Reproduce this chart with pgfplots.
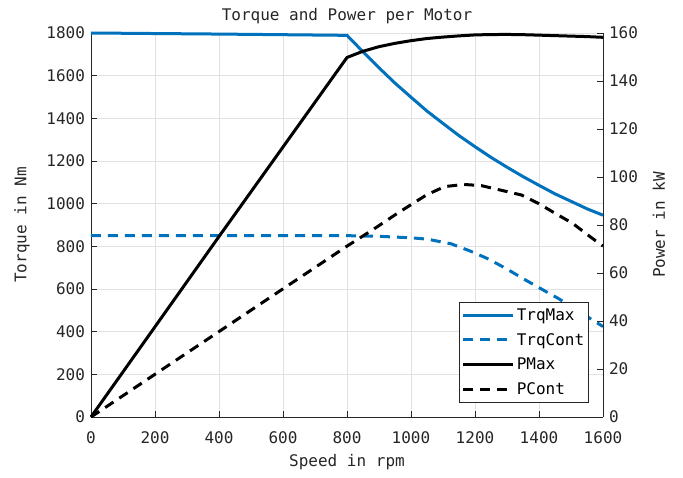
\documentclass[border=0pt]{standalone}
\usepackage{fontspec}
\setmainfont{DejaVu Sans Mono}
\usepackage{pgfplots}
\pgfplotsset{compat=1.18}
\definecolor{mblue}{RGB}{0,114,189}
\definecolor{axgray}{RGB}{38,38,38}
\definecolor{gridc}{RGB}{225,225,225}

\pgfplotsset{
  motor/.style={
    scale only axis, width=512pt, height=384pt,
    xmin=0, xmax=1600, clip=false,
    tick align=inside, major tick length=6pt,
    axis line style={-, axgray, line width=0.8pt},
    every tick/.style={axgray, line width=0.8pt},
    tick label style={font=\fontsize{16}{18}\selectfont, text=axgray},
    label style={font=\fontsize{16}{18}\selectfont, text=axgray},
    /pgf/number format/assume math mode=true,
    /pgf/number format/1000 sep={},
  },
}

\begin{document}
\begin{tikzpicture}
\useasboundingbox (-91pt,-60pt) rectangle (592pt,417pt);
% left axis: torque
\begin{axis}[motor,
  ymin=0, ymax=1800,
  xtick={0,200,...,1600}, ytick={0,200,...,1800},
  axis x line*=bottom, axis y line*=left,
  grid=major, grid style={gridc, line width=0.8pt},
  xticklabel style={yshift=-11pt},
  yticklabel style={xshift=-2.5pt},
  xlabel={Speed in rpm}, ylabel={Torque in Nm},
  xlabel style={at={(axis description cs:0.5,-0.1172)}, anchor=center},
  ylabel style={at={(axis description cs:-0.1348,0.5)}, anchor=center},
  title={Torque and Power per Motor},
  title style={at={(axis description cs:0.5,1.0286)}, anchor=center,
    font=\fontsize{16}{18}\selectfont, text=axgray},
]
\addplot[mblue, line width=3pt] coordinates {
  (0,1800) (400,1795) (800,1789) (850,1712) (900,1637) (950,1565) (1000,1499)
  (1050,1434) (1100,1376) (1150,1319) (1200,1267) (1250,1217) (1300,1171)
  (1350,1127) (1400,1086) (1450,1046) (1500,1011) (1550,976) (1600,946)};
\addplot[mblue, line width=3pt, dash pattern=on 10pt off 7pt] coordinates {
  (0,850) (400,850) (800,850) (900,847) (1000,840) (1050,834) (1125,812)
  (1185,778) (1240,742) (1297,696) (1350,649) (1405,602) (1460,556)
  (1520,499) (1567,455) (1600,424)};
\end{axis}
% right axis: power
\begin{axis}[motor,
  ymin=0, ymax=160, ytick={0,20,...,160},
  axis y line*=right, axis x line=none,
  yticklabel style={xshift=2.5pt},
  ylabel={Power in kW},
  ylabel style={at={(axis description cs:1.1094,0.5)}, anchor=center},
  legend cell align=left,
  legend image code/.code={\draw[#1] (0pt,0pt) -- (50pt,0pt);},
  legend style={at={(axis description cs:1,0)}, anchor=south east,
    xshift=-14.5pt, yshift=14pt, draw=axgray, fill=white, line width=0.6pt,
    font=\fontsize{16}{18}\selectfont, text=black,
    inner xsep=2pt, inner ysep=4.5pt, row sep=7.5pt},
]
\addlegendimage{mblue, line width=3pt}
\addlegendentry{TrqMax}
\addlegendimage{mblue, line width=3pt, dash pattern=on 10pt off 7pt}
\addlegendentry{TrqCont}
\addplot[black, line width=3pt] coordinates {
  (0,0) (400,75.2) (800,149.8) (850,152.4) (900,154.3) (950,155.7) (1000,156.8)
  (1050,157.7) (1100,158.3) (1150,158.8) (1200,159.2) (1250,159.35) (1300,159.4)
  (1350,159.3) (1400,159.1) (1450,158.9) (1500,158.7) (1550,158.5) (1600,158.2)};
\addlegendentry{PMax}
\addplot[black, line width=3pt, dash pattern=on 10pt off 7pt] coordinates {
  (0,0) (400,35.6) (800,71.2) (838,74.4) (895,79.3) (950,84.2) (998,88.3)
  (1048,92.5) (1105,96.0) (1165,96.9) (1220,96.4) (1278,94.6) (1345,92.5)
  (1398,89.0) (1450,84.9) (1505,80.7) (1560,75.1) (1600,71.2)};
\addlegendentry{PCont}
\end{axis}
\end{tikzpicture}
\end{document}
